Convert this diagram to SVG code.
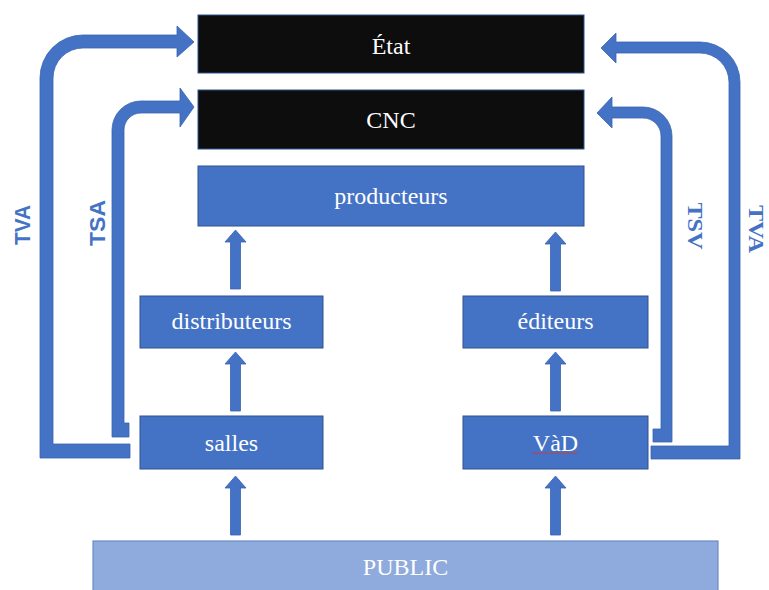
<svg xmlns="http://www.w3.org/2000/svg" xmlns:xlink="http://www.w3.org/1999/xlink" width="769" height="590" viewBox="0 0 769 590">
<style>
.box{fill:#4472C4;stroke:#2F528F;stroke-width:1}
.dark{fill:#0D0D0D;stroke:#2F528F;stroke-width:1}
.pub{fill:#8FAADC;stroke:#6A8BC6;stroke-width:1.2}
.lbl{font-family:"Liberation Serif","Times New Roman",serif;font-size:24px;fill:#FFFFFF;text-anchor:middle}
.arr{fill:#4472C4;stroke:#3A63AE;stroke-width:0.8}
.tax{font-weight:bold;fill:#4472C4;text-anchor:middle}
.sans{font-family:"Liberation Sans",Arial,sans-serif;font-size:22px}
.serif{font-family:"Liberation Serif","Times New Roman",serif;font-size:22px}
</style>
<defs>
<path id="up" d="M 0 0 L 10.5 12 L 5 12 L 5 59 L -5 59 L -5 12 L -10.5 12 Z"/>
</defs>
<rect width="769" height="590" fill="#FFFFFF"/>
<g id="connectors">
<path class="arr" d="M 40 458 L 130 458 L 130 444 L 53 444 L 53 78 A 30 30 0 0 1 83 48 L 177 48 L 177 57 L 194 42 L 177 26 L 177 35 L 83 35 A 43 43 0 0 0 40 78 Z"/>
<path class="arr" d="M 112 437 L 129 437 L 129 423 L 124 423 L 124 130 A 17 17 0 0 1 141 113 L 180 113 L 180 127 L 194 107 L 180 88 L 180 101 L 141 101 A 29 29 0 0 0 112 130 Z"/>
<path class="arr" d="M 740 459 L 651 459 L 651 446 L 729 446 L 729 82 A 29 29 0 0 0 700 53 L 616 53 L 616 63 L 601 48 L 616 33 L 616 42 L 700 42 A 40 40 0 0 1 740 82 Z"/>
<path class="arr" d="M 672 442 L 653 442 L 653 429 L 661 429 L 661 136 A 18 18 0 0 0 643 118 L 612 118 L 612 128 L 597 113 L 612 97 L 612 107 L 643 107 A 29 29 0 0 1 672 136 Z"/>
<use xlink:href="#up" href="#up" class="arr" x="235.5" y="230"/>
<use xlink:href="#up" href="#up" class="arr" x="235.5" y="352"/>
<use xlink:href="#up" href="#up" class="arr" x="235.5" y="476"/>
<use xlink:href="#up" href="#up" class="arr" x="555.5" y="232"/>
<use xlink:href="#up" href="#up" class="arr" x="555.5" y="352"/>
<use xlink:href="#up" href="#up" class="arr" x="555.5" y="476"/>
<text class="tax sans" transform="translate(30,225) rotate(-90)" textLength="40" lengthAdjust="spacingAndGlyphs">TVA</text>
<text class="tax sans" transform="translate(105,223) rotate(-90)" textLength="46" lengthAdjust="spacingAndGlyphs">TSA</text>
<text class="tax serif" transform="translate(688,226) rotate(90)" textLength="47" lengthAdjust="spacingAndGlyphs">TSV</text>
<text class="tax serif" transform="translate(749,229) rotate(90)" textLength="48" lengthAdjust="spacingAndGlyphs">TVA</text>
</g>
<g id="etat"><rect class="dark" x="198" y="15" width="386" height="58"/><text class="lbl" x="391" y="54">État</text></g>
<g id="cnc"><rect class="dark" x="198" y="90" width="386" height="59"/><text class="lbl" x="391" y="128">CNC</text></g>
<g id="producteurs"><rect class="box" x="198" y="166" width="386" height="60"/><text class="lbl" x="391" y="204">producteurs</text></g>
<g id="distributeurs"><rect class="box" x="140" y="296" width="183" height="52"/><text class="lbl" x="231.5" y="329">distributeurs</text></g>
<g id="editeurs"><rect class="box" x="463" y="296" width="185" height="52"/><text class="lbl" x="555.5" y="329">éditeurs</text></g>
<g id="salles"><rect class="box" x="140" y="416" width="183" height="53"/><text class="lbl" x="231.5" y="451">salles</text></g>
<g id="vad"><rect class="box" x="463" y="416" width="185" height="53"/><text class="lbl" x="555.5" y="451">VàD</text>
<path d="M 532 454 l 2 -1.5 l 2 1.5 l 2 -1.5 l 2 1.5 l 2 -1.5 l 2 1.5 l 2 -1.5 l 2 1.5 l 2 -1.5 l 2 1.5 l 2 -1.5 l 2 1.5 l 2 -1.5 l 2 1.5 l 2 -1.5 l 2 1.5 l 2 -1.5 l 2 1.5 l 2 -1.5 l 2 1.5 l 2 -1.5 l 2 1.5 l 2 -1.5" fill="none" stroke="#D03A3A" stroke-width="0.9"/></g>
<g id="public"><rect class="pub" x="93" y="541" width="625" height="52"/><text class="lbl" x="405.5" y="575">PUBLIC</text></g>
</svg>
